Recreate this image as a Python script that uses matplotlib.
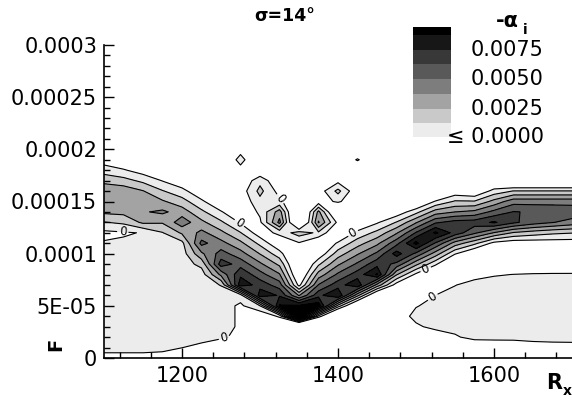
import numpy as np
import matplotlib
matplotlib.use("Agg")
import matplotlib.pyplot as plt
from matplotlib.patches import Rectangle
from matplotlib.ticker import FixedLocator, FixedFormatter

# ---------------- data ----------------
# Rx grid columns and F grid rows (F in units of 1e-5)
rx = [1100, 1125, 1150, 1175, 1200, 1225, 1250, 1275, 1300, 1325, 1350, 1375, 1400,
      1425, 1450, 1475, 1500, 1525, 1550, 1575, 1600, 1625, 1650, 1675, 1700]
f_rows = [0, 1, 2, 3, 4, 5, 6, 7, 8, 9, 10, 11, 12, 13, 14, 15, 16, 17, 18, 19, 20, 30]

# -alpha_i at each node, in units of the contour step (0.00125); one list per Rx column,
# values for F = 0,1,...,20,30 (x1e-5)
c1100 = [-0.5, 0.5, 0.5, 0.5, 0.5, 0.5, 0.5, 0.5, 0.5, 0.5, 0.5, 0.08, -0.24, 0.95, 2.2, 2.7, 2.6, 1.75, 0.5, -0.5, -1, -1]
c1125 = [-0.5, 0.5, 0.5, 0.5, 0.5, 0.5, 0.5, 0.5, 0.5, 0.5, 0.5, 0.15, -0.1, 1.2, 2.3, 2.8, 2.62, 1.38, 0.11, -1, -1, -1]
c1150 = [-0.5, 0.5, 0.5, 0.5, 0.5, 0.5, 0.5, 0.5, 0.5, 0.5, 0.5, 0.4, 0.05, 2.2, 2.9, 2.85, 2.05, 0.75, -0.5, -1, -1, -1]
c1175 = [-0.75, 0.5, 0.5, 0.5, 0.5, 0.5, 0.5, 0.5, 0.5, 0.5, 0.5, 0.5, 0.95, 2.1, 3.2, 2.13, 1.07, -0.05, -1, -1, -1, -1]
c1200 = [-1, 0.02, 0.5, 0.5, 0.5, 0.5, 0.5, 0.5, 0.5, 0.5, 0.5, 0.71, 2.16, 3.6, 2.51, 1.42, 0.33, -0.76, -1, -1, -1, -1]
c1225 = [-1, -0.4, 0.5, 0.5, 0.5, 0.5, 0.5, 0.5, 0.5, 1.3, 2.8, 4.3, 3.28, 2.25, 1.23, 0.2, -0.82, -1, -1, -1, -1, -1]
c1250 = [-1, -1.5, 0.3, 0.5, 0.5, 0.5, 0.5, 1.05, 3.25, 5.5, 4.42, 3.34, 2.26, 1.18, 0.1, -0.98, -1, -1, -1, -1, -1, -1]
c1275 = [-1, -1, -0.5, -0.2, -0.2, -0.2, 0.47, 6.6, 5.8, 4.6, 3.4, 2.25, 1.05, -0.12, -1, -0.8, -0.6, -1, -0.3, 0.3, -0.3, -1]
c1300 = [-1, -1, -1, -1, -1, 1.0, 6.6, 5.6, 4.4, 3.2, 1.95, 0.73, -0.6, -0.2, 0.2, 0.7, 1.3, 0.7, -1, -1, -1, -1]
c1325 = [-1, -1, -1, -1.8, 0.2, 7.1, 5.9, 4.5, 3.1, 1.77, 0.41, -0.95, 0.3, 3.3, 2.5, 0.2, -0.4, -1, -1, -1, -1, -1]
c1350 = [-1, -1, -2, -5.9, 8.8, 7.2, 2.93, -0.33, -1.5, -2, -2, -0.1, 1.5, -3, -3, -1, -1, -1, -1, -1, -1, -1]
c1375 = [-1, -1, -2, -5.98, 0.66, 7.6, 5.7, 4.06, 2.43, 0.81, -0.81, -1.17, 0.8, 3.1, 2.3, -0.575, -0.6, -1, -1, -1, -1, -1]
c1400 = [-1, -1, -1, -2, -3.7, 1.59, 7.0, 5.55, 4.2, 2.84, 1.49, 0.14, -1.22, -0.3, -2.2, 0.2, 1.3, -0.33, -1, -1, -1, -1]
c1425 = [-1, -1, -1, -1.5, -3, -2.27, 2.27, 6.8, 5.49, 4.18, 2.88, 1.57, 0.26, -1.05, -1, -1, -0.9, -1, -1, 0.1, -1, -1]
c1450 = [-1, -1, -1, -1, -1, -1.5, -1.78, 2.66, 7.1, 5.65, 4.2, 2.75, 1.3, -0.14, -1.6, -1, -1, -1, -1, -1, -1, -1]
c1475 = [-1, -1, -1, -1, -1, -1, -1.5, -0.52, 2.1, 4.72, 6.44, 4.65, 2.86, 1.07, -0.72, -1, -1, -1, -1, -1, -1, -1]
c1500 = [-1, -1, -1, -0.3, 0.5, -0.1, -1, -1, -0.25, 2.27, 4.78, 7.3, 5.09, 2.88, 0.66, -1.55, -1, -1, -1, -1, -1, -1]
c1525 = [-1, -1, -1.2, 0.5, 0.5, 0.5, 0.02, -1, -2.1, 0.23, 2.55, 4.88, 7.2, 4.84, 2.48, 0.12, -2.2, -1, -1, -1, -1, -1]
c1550 = [-1, -1, -0.2, 0.5, 0.5, 0.5, 0.5, -0.05, -1, -2.33, 0.12, 2.57, 5.6, 5.4, 3.0, 1.13, -0.75, -1, -1, -1, -1, -1]
c1575 = [-1, -1.5, 0.5, 0.5, 0.5, 0.5, 0.5, 0.5, -0.5, -1, -1.28, 1.28, 4.2, 5.5, 3.28, 1.09, -1.1, -1, -1, -1, -1, -1]
c1600 = [-1, -1.3, 0.5, 0.5, 0.5, 0.5, 0.5, 0.5, -0.1, -1, -1, -0.33, 2.94, 6.15, 4.3, 2.33, 0.39, -1.55, -1, -1, -1, -1]
c1625 = [-1, -1.2, 0.5, 0.5, 0.5, 0.5, 0.5, 0.5, 0.02, -1, -1, -0.7, 1.9, 5.2, 5.05, 3.6, 1.05, -2.3, -1, -1, -1, -1]
c1650 = [-1, -0.7, 0.5, 0.5, 0.5, 0.5, 0.5, 0.5, 0.1, -1.1, -1, -0.65, 1.5, 4.5, 4.9, 3.6, 1.05, -2.3, -1, -1, -1, -1]
c1675 = [-1, -0.55, 0.5, 0.5, 0.5, 0.5, 0.5, 0.5, 0.13, -1.1, -1, -0.6, 1.2, 4.05, 4.8, 3.6, 1.05, -2.3, -1, -1, -1, -1]
c1700 = [-1, -0.5, 0.5, 0.5, 0.5, 0.5, 0.5, 0.5, 0.15, -1.2, -1, -0.6, 1.05, 3.6, 4.7, 3.6, 1.05, -2.3, -1, -1, -1, -1]

step = 0.00125  # contour step of -alpha_i
legend_labels = ["0.0075", "0.0050", "0.0025", "\u2264 0.0000"]
ytick_vals = [0, 5e-5, 1e-4, 1.5e-4, 2e-4, 2.5e-4, 3e-4]
ytick_labels = ["0", "5E-05", "0.0001", "0.00015", "0.0002", "0.00025", "0.0003"]
xtick_vals = [1200, 1400, 1600]
label_spots = [(1124, 12.0e-5), (1274, 13.0e-5), (1328, 15.4e-5), (1419, 12.0e-5),
               (1513, 8.4e-5), (1520, 6.0e-5), (1254, 2.0e-5)]

# ---------------- figure ----------------
W, H = 572, 403
fig = plt.figure(figsize=(W / 100, H / 100), dpi=100)
fig.patch.set_facecolor("white")

def fx(px):
    return px / W

def fy(py):
    return 1 - py / H

ax_l, ax_r, ax_t, ax_b = 104, 572, 45, 358
ax = fig.add_axes([fx(ax_l), fy(ax_b), fx(ax_r) - fx(ax_l), fy(ax_t) - fy(ax_b)])

cols = [c1100, c1125, c1150, c1175, c1200, c1225, c1250, c1275, c1300, c1325, c1350, c1375,
        c1400, c1425, c1450, c1475, c1500, c1525, c1550, c1575, c1600, c1625, c1650, c1675, c1700]
Z = np.array(cols, dtype=float).T * step
X = np.array(rx, dtype=float)
Y = np.array(f_rows, dtype=float) * 1e-5

line_levels = [step * k for k in range(8)]
fill_levels = line_levels + [1.0]
fill_colors = ["#ececec", "#c9c9c9", "#a3a3a3", "#7d7d7d", "#595959", "#383838", "#171717", "#000000"]

ax.contourf(X, Y, Z, levels=fill_levels, colors=fill_colors)
cs = ax.contour(X, Y, Z, levels=line_levels, colors="black", linewidths=0.8)
ax.clabel(cs, levels=[line_levels[0]], manual=label_spots, inline=True,
          fmt=lambda v: "0", fontsize=8.5, inline_spacing=2)

ax.set_xlim(1100, 1700)
ax.set_ylim(0, 3e-4)
for s in ["top", "right"]:
    ax.spines[s].set_visible(False)
for s in ["left", "bottom"]:
    ax.spines[s].set_linewidth(1.2)

ax.xaxis.set_major_locator(FixedLocator(xtick_vals))
ax.xaxis.set_minor_locator(FixedLocator([v for v in range(1120, 1700, 40) if v not in xtick_vals]))
ax.yaxis.set_major_locator(FixedLocator(ytick_vals))
ax.yaxis.set_major_formatter(FixedFormatter(ytick_labels))
ax.yaxis.set_minor_locator(FixedLocator([k * 1e-5 for k in range(1, 30) if k % 5]))
ax.tick_params(which="both", direction="in", color="black", width=1)
ax.tick_params(which="major", length=7, labelsize=15)
ax.tick_params(which="minor", length=4)
ax.tick_params(axis="y", pad=5)
ax.tick_params(axis="x", pad=6)

# axis titles
fig.text(fx(56), fy(344), "F", rotation=90, fontsize=14, fontweight="bold", ha="center", va="center")
fig.text(fx(554), fy(383), "R", fontsize=15, fontweight="bold", ha="center", va="center")
fig.text(fx(567), fy(391), "x", fontsize=10, fontweight="bold", ha="center", va="center")
fig.text(fx(285), fy(16), "\u03c3=14\u00b0", fontsize=12.5, fontweight="bold", ha="center", va="center")

# legend
box_x0, box_x1 = 413, 451
edges = [27, 35, 50, 64, 79, 94, 109, 123, 137]
for i in range(8):
    y0, y1 = edges[i], edges[i + 1]
    fig.patches.append(Rectangle((fx(box_x0), fy(y1)), fx(box_x1) - fx(box_x0), fy(y0) - fy(y1),
                                 transform=fig.transFigure, facecolor=fill_colors[7 - i],
                                 edgecolor="none"))
for lab, py in zip(legend_labels, [50, 79, 109, 137]):
    fig.text(fx(544), fy(py), lab, fontsize=15, ha="right", va="center")
fig.text(fx(507), fy(21), "-\u03b1", fontsize=15, fontweight="bold", ha="center", va="center")
fig.text(fx(525), fy(30), "i", fontsize=10, fontweight="bold", ha="center", va="center")

fig.savefig("out.png", dpi=100)
